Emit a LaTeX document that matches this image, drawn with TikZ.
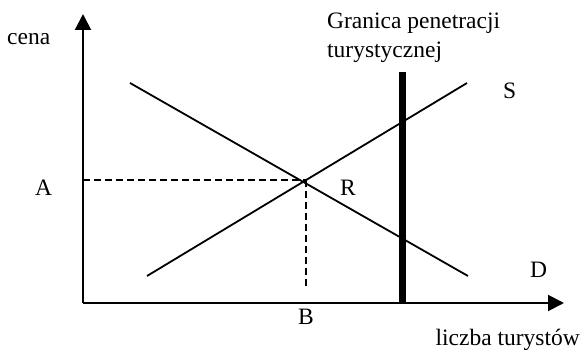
\documentclass[tikz,border=0pt]{standalone}
\usepackage{fontspec}
\setmainfont{Liberation Serif}
\usetikzlibrary{arrows.meta}
\begin{document}
\begin{tikzpicture}[x=1pt,y=-1pt,
  lbl/.style={inner sep=0pt,font=\fontsize{23.5}{28}\selectfont},
  axis/.style={line width=2pt,-{Triangle[length=16pt,width=16pt]}},
  curve/.style={line width=1.8pt},
  guide/.style={line width=1.8pt,dash pattern=on 7pt off 4pt},
  limit/.style={line width=7pt}]
\useasboundingbox (0,0) rectangle (582,350);
\coordinate (O) at (83,303);
\coordinate (Ytip) at (83,14);
\coordinate (Xtip) at (564,303);
\coordinate (D1) at (130,83);
\coordinate (D2) at (468,276);
\coordinate (S1) at (147,276);
\coordinate (S2) at (467,83);
\coordinate (R) at (306,180);
\coordinate (Aax) at (83,180);
\coordinate (Bend) at (306,286);
\coordinate (G1) at (402,72);
\coordinate (G2) at (402,303);
\draw[limit] (G1) -- (G2);
\draw[axis] (O) -- (Ytip);
\draw[axis] (O) -- (Xtip);
\draw[curve] (D1) -- (D2);
\draw[curve] (S1) -- (S2);
\draw[guide] (Aax) -- (R);
\draw[guide] (R) -- (Bend);
\node[lbl,anchor=base west] (cena) at (7,45) {cena};
\node[lbl,anchor=base west] (gr1) at (327,29) {Granica penetracji};
\node[lbl,anchor=base west] (gr2) at (327,58) {turystycznej};
\node[lbl,anchor=base west] (Sl) at (503,99) {S};
\node[lbl,anchor=base west] (Al) at (35,196) {A};
\node[lbl,anchor=base west] (Rl) at (340,196) {R};
\node[lbl,anchor=base] (Bl) at (306,325) {B};
\node[lbl,anchor=base west] (Dl) at (530,278) {D};
\node[lbl,anchor=base east] (xl) at (580,345) {liczba turystów};
\end{tikzpicture}
\end{document}
